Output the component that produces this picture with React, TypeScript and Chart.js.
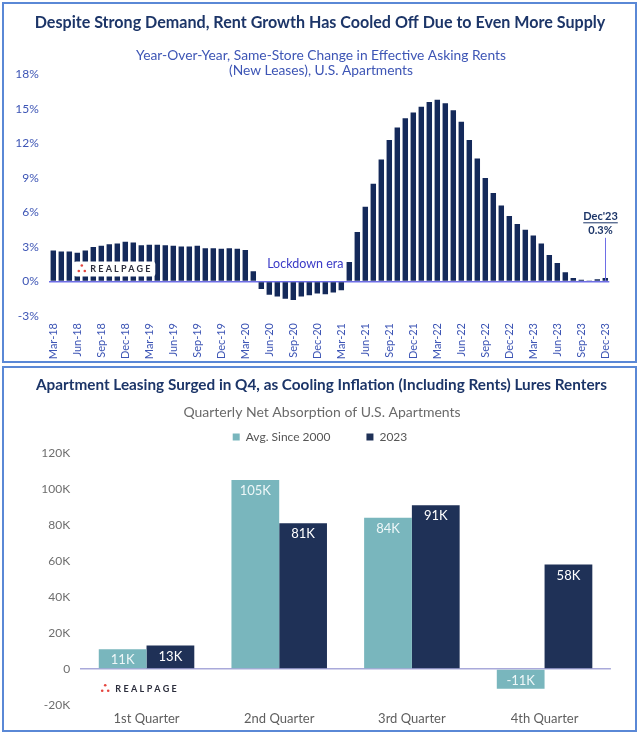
import React, { useEffect, useRef } from 'react';
import { Chart, registerables } from 'chart.js';

Chart.register(...registerables);

const FONT = 'Lato, "Noto Sans", sans-serif';

// ---------- Top chart data ----------
const MONTHS = ['Jan', 'Feb', 'Mar', 'Apr', 'May', 'Jun', 'Jul', 'Aug', 'Sep', 'Oct', 'Nov', 'Dec'];
const YEARS = ['18', '19', '20', '21', '22', '23'];
const RENT_CATEGORIES: string[] = YEARS.flatMap((y) => MONTHS.map((m) => `${m}-${y}`)).slice(2);

const RENT_2018 = [2.7, 2.6, 2.6, 2.5, 2.7, 3.0, 3.1, 3.25, 3.3, 3.45];
const RENT_2019 = [3.4, 3.15, 3.2, 3.2, 3.15, 3.1, 3.05, 3.05, 3.1, 2.9, 2.9, 2.85];
const RENT_2020 = [2.9, 2.85, 2.75, 0.9, -0.65, -1.15, -1.3, -1.5, -1.6, -1.3, -1.2, -1.05];
const RENT_2021 = [-1.1, -0.95, -0.75, 1.7, 4.3, 6.5, 8.5, 10.6, 12.3, 13.4, 14.2, 14.7];
const RENT_2022 = [15.2, 15.6, 15.8, 15.5, 14.9, 13.9, 12.3, 10.7, 9.0, 7.7, 6.6, 5.7];
const RENT_2023 = [5.0, 4.5, 4.0, 3.3, 2.3, 1.6, 0.8, 0.3, 0.15, 0.05, 0.2, 0.3];
const RENT_GROWTH = [...RENT_2018, ...RENT_2019, ...RENT_2020, ...RENT_2021, ...RENT_2022, ...RENT_2023];

const RENT_Y_MIN = -3;
const RENT_Y_MAX = 18;
const RENT_Y_STEP = 3;
const RENT_LABEL_EVERY = 3;

const TOP_TITLE = 'Despite Strong Demand, Rent Growth Has Cooled Off Due to Even More Supply';
const TOP_SUBTITLE = ['Year-Over-Year, Same-Store Change in Effective Asking Rents', '(New Leases), U.S. Apartments'];
const LOCKDOWN_TEXT = 'Lockdown era';
const CALLOUT_TEXT = "Dec'23";

// ---------- Bottom chart data ----------
const QUARTERS = ['1st Quarter', '2nd Quarter', '3rd Quarter', '4th Quarter'];
const AVG_SINCE_2000 = [11, 105, 84, -11];
const ABSORPTION_2023 = [13, 81, 91, 58];
const SERIES_NAMES = ['Avg. Since 2000', '2023'];
const ABS_Y_MIN = -20;
const ABS_Y_MAX = 120;
const ABS_Y_STEP = 20;

const BOTTOM_TITLE = 'Apartment Leasing Surged in Q4, as Cooling Inflation (Including Rents) Lures Renters';
const BOTTOM_SUBTITLE = 'Quarterly Net Absorption of U.S. Apartments';
const LOGO_TEXT = 'REALPAGE';

// ---------- Colours ----------
const NAVY_BAR = '#14295a';
const TITLE_NAVY = '#1c3568';
const AXIS_BLUE = '#3d55b5';
const ZERO_LAVENDER = '#6e6ee6';
const TEAL = '#79b6bd';
const NAVY2 = '#1f3157';
const GRAY_AXIS = '#6e6e6e';
const BORDER_BLUE = '#5a88d6';

function drawLogo(ctx: CanvasRenderingContext2D, dotX: number, textX: number, cy: number, size: number, spacing: number) {
  ctx.save();
  ctx.fillStyle = '#e5463f';
  const pts = [[dotX + 3, cy - 3.5], [dotX, cy + 2], [dotX + 6, cy + 2]];
  pts.forEach(([x, y]) => {
    ctx.beginPath();
    ctx.arc(x, y, 1.3, 0, Math.PI * 2);
    ctx.fill();
  });
  ctx.fillStyle = '#2b2d3c';
  ctx.font = `bold ${size}px ${FONT}`;
  (ctx as any).letterSpacing = `${spacing}px`;
  ctx.textAlign = 'left';
  ctx.textBaseline = 'middle';
  ctx.fillText(LOGO_TEXT, textX, cy + 0.5);
  ctx.restore();
}

const topDecor = {
  id: 'topDecor',
  afterDatasetsDraw(chart: any) {
    const { ctx, chartArea, scales } = chart;
    const y0 = scales.y.getPixelForValue(0);
    const bx = chartArea.left + 24;
    const by = y0 - 20;
    ctx.save();
    ctx.fillStyle = '#ffffff';
    ctx.beginPath();
    (ctx as any).roundRect(bx, by, 82, 15, 3);
    ctx.fill();
    ctx.restore();
    drawLogo(ctx, bx + 5.5, bx + 17, by + 7.5, 9, 2.2);
  },
  afterDraw(chart: any) {
    const { ctx, scales } = chart;
    const xs = scales.x;
    const ys = scales.y;
    ctx.save();
    ctx.textAlign = 'center';
    ctx.textBaseline = 'middle';
    ctx.fillStyle = TITLE_NAVY;
    ctx.font = `bold 16.1px ${FONT}`;
    ctx.fillText(TOP_TITLE, 320, 23);
    ctx.fillStyle = AXIS_BLUE;
    ctx.font = `13.8px ${FONT}`;
    ctx.fillText(TOP_SUBTITLE[0], 321, 56);
    ctx.fillText(TOP_SUBTITLE[1], 321, 71);

    ctx.fillStyle = '#3a3ac6';
    ctx.font = `12.5px ${FONT}`;
    const lx = (xs.getPixelForValue(31) + xs.getPixelForValue(32)) / 2;
    ctx.fillText(LOCKDOWN_TEXT, lx, ys.getPixelForValue(1.5));

    const last = RENT_GROWTH.length - 1;
    const cx = Math.round(xs.getPixelForValue(last)) + 0.5;
    const lineTop = ys.getPixelForValue(3.8);
    ctx.strokeStyle = ZERO_LAVENDER;
    ctx.lineWidth = 1;
    ctx.beginPath();
    ctx.moveTo(cx, lineTop);
    ctx.lineTo(cx, ys.getPixelForValue(0));
    ctx.stroke();
    const tx = cx - 5;
    ctx.fillStyle = TITLE_NAVY;
    ctx.font = `bold 11px ${FONT}`;
    ctx.fillText(CALLOUT_TEXT, tx, lineTop - 21);
    const w = ctx.measureText(CALLOUT_TEXT).width;
    ctx.fillRect(tx - w / 2, lineTop - 15.5, w, 1);
    ctx.fillText(`${RENT_GROWTH[last]}%`, tx, lineTop - 7.5);
    ctx.restore();
  },
};

const bottomDecor = {
  id: 'bottomDecor',
  afterDatasetsDraw(chart: any) {
    const { ctx } = chart;
    ctx.save();
    ctx.textAlign = 'center';
    ctx.textBaseline = 'middle';
    ctx.font = `13px ${FONT}`;
    chart.data.datasets.forEach((ds: any, di: number) => {
      const meta = chart.getDatasetMeta(di);
      meta.data.forEach((bar: any, i: number) => {
        const v = ds.data[i];
        ctx.fillStyle = di === 0 ? '#eef7f8' : '#ffffff';
        const y = v >= 0 ? bar.y + 11 : bar.y - 8;
        ctx.fillText(`${v}K`, bar.x, y);
      });
    });
    ctx.restore();
  },
  afterDraw(chart: any) {
    const { ctx, chartArea } = chart;
    ctx.save();
    ctx.textAlign = 'center';
    ctx.textBaseline = 'middle';
    ctx.fillStyle = TITLE_NAVY;
    ctx.font = `bold 15.3px ${FONT}`;
    ctx.fillText(BOTTOM_TITLE, 321.5, 19);
    ctx.fillStyle = '#6a6a6a';
    ctx.font = `14px ${FONT}`;
    ctx.fillText(BOTTOM_SUBTITLE, 322, 46);
    ctx.restore();
    drawLogo(ctx, chartArea.left + 22, chartArea.left + 35, chart.scales.y.getPixelForValue(-11), 9, 2.4);
  },
};

function RentChart() {
  const ref = useRef<HTMLCanvasElement>(null);
  useEffect(() => {
    if (!ref.current) return;
    const chart = new Chart(ref.current, {
      type: 'bar',
      data: {
        labels: RENT_CATEGORIES,
        datasets: [
          {
            data: RENT_GROWTH,
            backgroundColor: NAVY_BAR,
            barPercentage: 0.68,
            categoryPercentage: 1,
          },
        ],
      },
      options: {
        animation: false,
        responsive: false,
        maintainAspectRatio: false,
        layout: { padding: { top: 74.5, left: 0, right: 30.7, bottom: 0 } },
        plugins: { legend: { display: false }, tooltip: { enabled: false } },
        scales: {
          x: {
            grid: { display: false, drawTicks: false },
            border: { display: false },
            ticks: {
              autoSkip: false,
              minRotation: 90,
              maxRotation: 90,
              padding: 7,
              color: AXIS_BLUE,
              font: { family: FONT, size: 11 },
              callback: (_v: any, i: number) => (i % RENT_LABEL_EVERY === 0 ? RENT_CATEGORIES[i] : ''),
            },
            afterFit: (s: any) => {
              s.height = 48;
            },
          },
          y: {
            min: RENT_Y_MIN,
            max: RENT_Y_MAX,
            border: { display: false },
            grid: {
              drawTicks: false,
              lineWidth: 1.5,
              color: (c: any) => (c.tick && c.tick.value === 0 ? ZERO_LAVENDER : 'rgba(0,0,0,0)'),
            },
            ticks: {
              stepSize: RENT_Y_STEP,
              padding: 10.5,
              color: AXIS_BLUE,
              font: { family: FONT, size: 12 },
              callback: (v: any) => `${v}%`,
            },
            afterFit: (s: any) => {
              s.width = 49.3;
            },
          },
        },
      } as any,
      plugins: [topDecor],
    });
    return () => chart.destroy();
  }, []);
  return <canvas ref={ref} width={640} height={364} style={{ position: 'absolute', left: 0, top: 0, width: 640, height: 364 }} />;
}

function AbsorptionChart() {
  const ref = useRef<HTMLCanvasElement>(null);
  useEffect(() => {
    if (!ref.current) return;
    const chart = new Chart(ref.current, {
      type: 'bar',
      data: {
        labels: QUARTERS,
        datasets: [
          { label: SERIES_NAMES[0], data: AVG_SINCE_2000, backgroundColor: TEAL, barPercentage: 1, categoryPercentage: 0.72 },
          { label: SERIES_NAMES[1], data: ABSORPTION_2023, backgroundColor: NAVY2, barPercentage: 1, categoryPercentage: 0.72 },
        ],
      },
      options: {
        animation: false,
        responsive: false,
        maintainAspectRatio: false,
        layout: { padding: { top: 29, left: 29.1, right: 29.1, bottom: 0 } },
        plugins: {
          tooltip: { enabled: false },
          legend: {
            display: true,
            position: 'top',
            maxHeight: 58.3,
            labels: {
              boxWidth: 7,
              boxHeight: 7,
              padding: 36,
              color: '#555555',
              font: { family: FONT, size: 12 },
            },
          },
        },
        scales: {
          x: {
            grid: { display: false, drawTicks: false },
            border: { display: false },
            ticks: { padding: 6, color: '#5e5e5e', font: { family: FONT, size: 13 } },
            afterFit: (s: any) => {
              s.height = 30;
            },
          },
          y: {
            min: ABS_Y_MIN,
            max: ABS_Y_MAX,
            border: { display: false },
            grid: {
              drawTicks: false,
              lineWidth: 1.5,
              color: (c: any) => (c.tick && c.tick.value === 0 ? '#a9a9da' : 'rgba(0,0,0,0)'),
            },
            ticks: {
              stepSize: ABS_Y_STEP,
              padding: 10,
              color: GRAY_AXIS,
              font: { family: FONT, size: 12 },
              callback: (v: any) => (v === 0 ? '0' : `${v}K`),
            },
            afterFit: (s: any) => {
              s.width = 51.1;
            },
          },
        },
      } as any,
      plugins: [bottomDecor],
    });
    return () => chart.destroy();
  }, []);
  return <canvas ref={ref} width={640} height={369} style={{ position: 'absolute', left: 0, top: 366, width: 640, height: 369 }} />;
}

export default function App() {
  return (
    <div style={{ position: 'absolute', left: 0, top: 0, width: 640, height: 735, background: '#ffffff', overflow: 'hidden' }}>
      <RentChart />
      <AbsorptionChart />
      <div style={{ position: 'absolute', left: 2, top: 2, width: 635, height: 361, border: `2px solid ${BORDER_BLUE}`, boxSizing: 'border-box', pointerEvents: 'none' }} />
      <div style={{ position: 'absolute', left: 2, top: 366, width: 635, height: 366, border: `2px solid ${BORDER_BLUE}`, boxSizing: 'border-box', pointerEvents: 'none' }} />
    </div>
  );
}
